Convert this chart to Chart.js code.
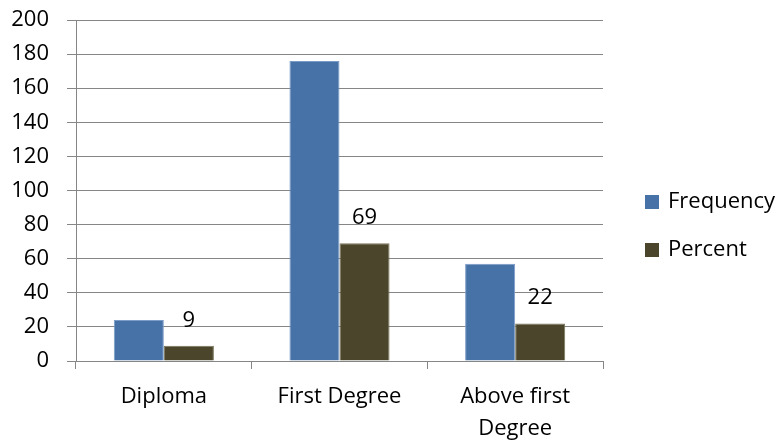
<!DOCTYPE html>
<html>
<head>
<meta charset="utf-8">
<script src="https://cdn.jsdelivr.net/npm/chart.js@4/dist/chart.umd.min.js"></script>
<style>
  html, body { margin: 0; padding: 0; background: #ffffff; }
  #wrap { width: 782px; height: 440px; }
</style>
</head>
<body>
<div id="wrap"><canvas id="chart" width="782" height="440"></canvas></div>
<script>
// Qualification categories (multi-line label as array)
const categories = ['Diploma', 'First Degree', ['Above first', 'Degree']];
const seriesNames = ['Frequency', 'Percent'];
const frequency = [24, 176, 57];
const percent = [9, 69, 22];
const yTicks = [0, 20, 40, 60, 80, 100, 120, 140, 160, 180, 200];

const seriesColors = ['#4672A8', '#4A452B'];
const seriesEdges = ['#7C9CC8', '#7A7558'];
const FONT = '"Open Sans", "Liberation Sans", sans-serif';
const FONT_SIZE = 22;
const GRID = '#868686';

// Value labels above the Percent bars
const percentLabels = {
  id: 'percentLabels',
  afterDatasetsDraw(chart) {
    const ctx = chart.ctx;
    const meta = chart.getDatasetMeta(1);
    const values = chart.data.datasets[1].data;
    ctx.save();
    ctx.font = FONT_SIZE + 'px ' + FONT;
    ctx.fillStyle = '#000';
    ctx.textAlign = 'center';
    ctx.textBaseline = 'alphabetic';
    meta.data.forEach((bar, i) => {
      ctx.fillText(String(values[i]), bar.x, bar.y - 19);
    });
    ctx.restore();
  }
};

// Legend at the right with square swatches
const sideLegend = {
  id: 'sideLegend',
  afterDraw(chart) {
    const ctx = chart.ctx;
    const area = chart.chartArea;
    const x = area.right + 42;
    ctx.save();
    ctx.font = FONT_SIZE + 'px ' + FONT;
    ctx.textBaseline = 'middle';
    ctx.textAlign = 'left';
    chart.data.datasets.forEach((ds, i) => {
      const cy = 202 + i * 48;
      ctx.fillStyle = ds.backgroundColor;
      ctx.fillRect(x, cy - 7, 14, 14);
      ctx.fillStyle = '#000';
      ctx.fillText(ds.label, x + 23, cy);
    });
    ctx.restore();
  }
};

new Chart(document.getElementById('chart'), {
  type: 'bar',
  data: {
    labels: categories,
    datasets: [
      {
        label: seriesNames[0],
        data: frequency,
        backgroundColor: seriesColors[0],
        borderColor: seriesEdges[0],
        borderWidth: 1,
        categoryPercentage: 0.57,
        barPercentage: 1.0
      },
      {
        label: seriesNames[1],
        data: percent,
        backgroundColor: seriesColors[1],
        borderColor: seriesEdges[1],
        borderWidth: 1,
        categoryPercentage: 0.57,
        barPercentage: 1.0
      }
    ]
  },
  options: {
    responsive: false,
    animation: false,
    devicePixelRatio: 1,
    layout: { padding: { top: 20, right: 179, left: 0, bottom: 0 } },
    plugins: {
      legend: { display: false },
      tooltip: { enabled: false }
    },
    scales: {
      x: {
        offset: true,
        grid: {
          display: true,
          drawOnChartArea: false,
          drawTicks: true,
          tickLength: 8,
          color: GRID,
          offset: true
        },
        border: { display: true, color: GRID, width: 1 },
        ticks: {
          color: '#000',
          font: { family: FONT, size: FONT_SIZE, lineHeight: 1.45 },
          padding: 12,
          maxRotation: 0,
          autoSkip: false
        },
        afterFit(scale) {
          scale.height = 79;
          scale.paddingLeft = 0;
          scale.paddingRight = 0;
        }
      },
      y: {
        min: 0,
        max: 200,
        afterBuildTicks(scale) { scale.ticks = yTicks.map(v => ({ value: v })); },
        grid: {
          color: GRID,
          lineWidth: 1,
          drawTicks: true,
          tickLength: 9
        },
        border: { display: true, color: GRID, width: 1 },
        ticks: {
          color: '#000',
          font: { family: FONT, size: FONT_SIZE },
          padding: 18
        },
        afterFit(scale) {
          scale.width = 76;
          scale.paddingTop = 0;
          scale.paddingBottom = 0;
        }
      }
    }
  },
  plugins: [percentLabels, sideLegend]
});
</script>
</body>
</html>
